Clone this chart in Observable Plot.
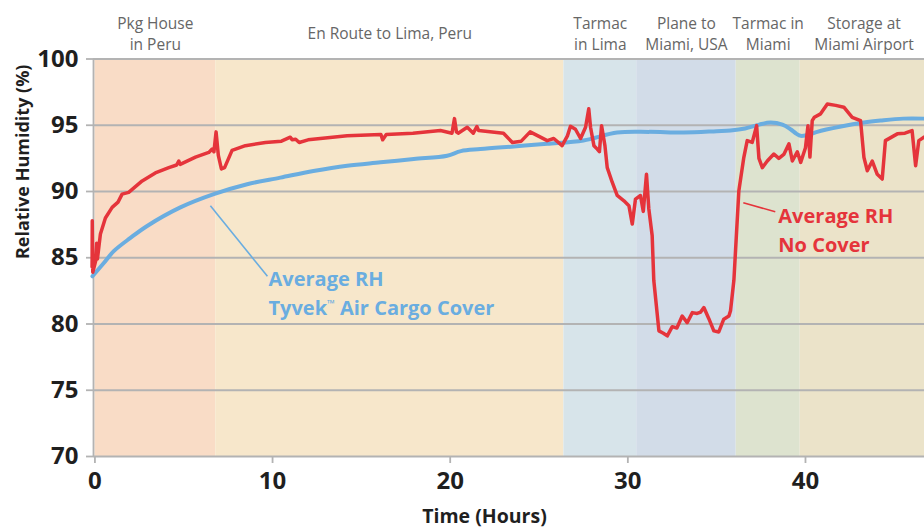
<!DOCTYPE html>
<html>
<head>
<meta charset="utf-8">
<script src="https://cdn.jsdelivr.net/npm/d3@7"></script>
<script src="https://cdn.jsdelivr.net/npm/@observablehq/plot@0.6"></script>
<style>
  html, body { margin: 0; padding: 0; background: #fff; }
  #chart svg { display: block; }
</style>
</head>
<body>
<div id="chart"></div>
<script>
// ---- Data ----
const bandNames = ["Pkg House\nin Peru", "En Route to Lima, Peru", "Tarmac\nin Lima", "Plane to\nMiami, USA", "Tarmac in\nMiami", "Storage at\nMiami Airport"];
const bandStart = [0, 6.8, 26.4, 30.5, 36.1, 39.7];
const bandEnd = [6.8, 26.4, 30.5, 36.1, 39.7, 50];
const bandLabelHour = [3.4, 16.6, 28.45, 33.3, 37.9, 43.3];
const bandColors = ["#f9dcc6", "#f7e7cb", "#d7e4ea", "#d2dce8", "#dde3cf", "#ebe3c9"];

const yTicks = [70, 75, 80, 85, 90, 95, 100];
const xTicks = [0, 10, 20, 30, 40];

const noCoverHours = [-0.16, -0.15, -0.12, 0.05, 0.1, 0.14, 0.31, 0.59, 0.97, 1.3, 1.53, 1.9, 2.66, 3.4, 4.16, 4.6, 4.72, 4.8, 5.66, 6.41, 6.6, 6.7, 6.82, 6.95, 7.12, 7.3, 7.72, 8.47, 9.6, 10.5, 11.0, 11.1, 11.3, 11.5, 12.0, 14.2, 16.1, 16.2, 16.4, 17.9, 19.45, 20.1, 20.24, 20.35, 20.45, 20.96, 21.3, 21.5, 21.6, 23.0, 23.5, 24.0, 24.5, 25.08, 25.46, 25.83, 26.3, 26.6, 26.77, 27.05, 27.34, 27.62, 27.8, 27.9, 28.09, 28.28, 28.4, 28.52, 28.71, 28.84, 29.12, 29.4, 29.78, 30.06, 30.25, 30.43, 30.71, 30.87, 31.05, 31.18, 31.37, 31.46, 31.75, 32.0, 32.22, 32.5, 32.76, 33.06, 33.34, 33.63, 33.9, 34.1, 34.28, 34.56, 34.84, 35.12, 35.4, 35.69, 35.78, 35.97, 36.25, 36.53, 36.72, 37.0, 37.25, 37.38, 37.57, 37.85, 38.22, 38.5, 38.78, 39.07, 39.26, 39.54, 39.73, 40.0, 40.14, 40.25, 40.38, 40.5, 40.85, 41.23, 41.7, 42.16, 42.63, 43.1, 43.29, 43.48, 43.76, 44.04, 44.32, 44.5, 45.17, 45.6, 46.0, 46.2, 46.38, 46.67];
const noCoverRH = [84.3, 87.8, 83.9, 84.8, 86.1, 84.9, 86.8, 88.0, 88.8, 89.2, 89.8, 89.93, 90.8, 91.4, 91.8, 92.0, 92.3, 92.05, 92.6, 92.95, 93.2, 93.0, 94.5, 92.7, 91.7, 91.8, 93.1, 93.46, 93.7, 93.8, 94.1, 93.9, 93.95, 93.7, 93.9, 94.2, 94.3, 93.9, 94.3, 94.4, 94.6, 94.4, 95.5, 94.5, 94.4, 94.85, 94.4, 94.9, 94.6, 94.4, 93.7, 93.8, 94.5, 94.1, 93.84, 94.0, 93.46, 94.2, 94.92, 94.7, 94.0, 94.85, 96.24, 94.85, 93.46, 93.2, 93.0, 94.97, 93.46, 91.8, 90.7, 89.7, 89.3, 88.93, 87.54, 89.43, 89.7, 88.5, 91.3, 88.7, 86.66, 83.3, 79.48, 79.3, 79.1, 79.8, 79.7, 80.6, 80.1, 80.86, 80.8, 80.9, 81.24, 80.4, 79.48, 79.4, 80.36, 80.6, 81.0, 83.3, 90.06, 92.58, 93.84, 93.7, 94.97, 92.5, 91.8, 92.3, 92.83, 92.5, 92.8, 93.6, 92.3, 93.0, 92.2, 93.3, 94.97, 92.6, 95.35, 95.6, 95.86, 96.6, 96.5, 96.36, 95.6, 95.35, 92.58, 91.57, 92.3, 91.3, 90.94, 93.84, 94.35, 94.4, 94.6, 91.95, 93.84, 94.1];

const tyvekHours = [-0.14, 0.5, 1.06, 2.0, 2.94, 4.81, 6.69, 8.57, 10.44, 12.3, 14.2, 16.08, 17.95, 19.83, 20.6, 21.7, 23.58, 25.46, 27.5, 29.4, 31.2, 33.15, 35.0, 35.78, 36.6, 37.4, 38.03, 38.7, 39.16, 39.5, 39.73, 40.25, 40.66, 42.0, 43.29, 44.23, 45.5, 46.67];
const tyvekRH = [83.6, 84.6, 85.5, 86.5, 87.4, 88.8, 89.8, 90.55, 91.05, 91.55, 91.95, 92.2, 92.45, 92.7, 93.05, 93.2, 93.4, 93.6, 93.85, 94.45, 94.5, 94.45, 94.55, 94.6, 94.75, 95.05, 95.2, 95.05, 94.7, 94.35, 94.2, 94.3, 94.5, 94.9, 95.2, 95.35, 95.5, 95.5];

const seriesLabels = ["Average RH\nTyvek™ Air Cargo Cover", "Average RH\nNo Cover"];
const labelHour = [9.77, 38.47];
const labelRH = [82.46, 87.26];
const leaderFrom = [[6.5, 88.93], [36.5, 89.15]];
const leaderTo = [[9.71, 83.6], [38.3, 88.47]];

const RED = "#e5343b";
const BLUE = "#6aade0";

// ---- Tables ----
const bands = bandNames.map((name, i) => ({name, start: bandStart[i], end: bandEnd[i], lx: bandLabelHour[i], color: bandColors[i]}));
const noCover = noCoverHours.map((h, i) => ({h, rh: noCoverRH[i]}));
const tyvek = tyvekHours.map((h, i) => ({h, rh: tyvekRH[i]}));
const labels = seriesLabels.map((t, i) => ({t, h: labelHour[i], rh: labelRH[i], c: i === 0 ? BLUE : RED}));
const leaders = leaderFrom.map((f, i) => ({x1: f[0], y1: f[1], x2: leaderTo[i][0], y2: leaderTo[i][1], c: i === 0 ? BLUE : RED}));

const X0 = -0.08;
const chart = Plot.plot({
  width: 924,
  height: 529,
  marginLeft: 93,
  marginRight: 0,
  marginTop: 58.5,
  marginBottom: 73,
  x: {domain: [X0, 46.7]},
  y: {domain: [70, 100]},
  style: {fontFamily: "'Open Sans', sans-serif", background: "#fff", overflow: "visible"},
  marks: [
    Plot.rect(bands, {x1: "start", x2: "end", y1: 70, y2: 100, fill: "color", clip: true}),
    Plot.ruleY(yTicks, {stroke: "#b3b3b3", strokeWidth: 1.8}),
    Plot.ruleX([X0], {y1: 70, y2: 100, stroke: "#b3b3b3", strokeWidth: 1.8}),
    Plot.axisY({ticks: yTicks, tickSize: 7, tickPadding: 8, fontSize: 24, fontWeight: "bold", stroke: "#b3b3b3", fill: "#1f1f1f", strokeWidth: 1.8, label: null}),
    Plot.axisX({ticks: xTicks, tickSize: 7, tickPadding: 8, fontSize: 24, fontWeight: "bold", stroke: "#b3b3b3", fill: "#1f1f1f", strokeWidth: 1.8, label: null}),
    Plot.text(bands, {x: "lx", y: 100, text: "name", dy: -26.5, lineAnchor: "middle", lineHeight: 1.4, fontSize: 15.5, fill: "#666"}),
    Plot.line(tyvek, {x: "h", y: "rh", stroke: BLUE, strokeWidth: 4, curve: "catmull-rom"}),
    Plot.line(noCover, {x: "h", y: "rh", stroke: RED, strokeWidth: 3.5, strokeLinejoin: "round"}),
    Plot.link(leaders, {x1: "x1", y1: "y1", x2: "x2", y2: "y2", stroke: "c", strokeWidth: 1.6}),
    Plot.text(labels, {x: "h", y: "rh", text: "t", fill: "c", textAnchor: "start", lineAnchor: "middle", lineHeight: 1.45, fontSize: 20, fontWeight: "bold"}),
    Plot.text(["Relative Humidity (%)"], {frameAnchor: "left", y: 84.9, dx: -70, rotate: -90, fontSize: 18, fontWeight: "bold", fill: "#1f1f1f"}),
    Plot.text(["Time (Hours)"], {frameAnchor: "bottom", x: 21.93, dy: 66, fontSize: 19.5, fontWeight: "bold", fill: "#1f1f1f"})
  ]
});
document.getElementById("chart").appendChild(chart);

// render the trademark sign small and raised, as in the original
chart.querySelectorAll("tspan, text").forEach(node => {
  if (node.childNodes.length === 1 && node.firstChild.nodeType === 3 && node.textContent.includes("™")) {
    const [before, after] = node.textContent.split("™");
    node.textContent = before;
    const ns = "http://www.w3.org/2000/svg";
    const tm = document.createElementNS(ns, "tspan");
    tm.setAttribute("font-size", "10");
    tm.setAttribute("dy", "-8");
    tm.textContent = "™";
    const rest = document.createElementNS(ns, "tspan");
    rest.setAttribute("dy", "8");
    rest.textContent = after;
    node.appendChild(tm);
    node.appendChild(rest);
  }
});
</script>
</body>
</html>
